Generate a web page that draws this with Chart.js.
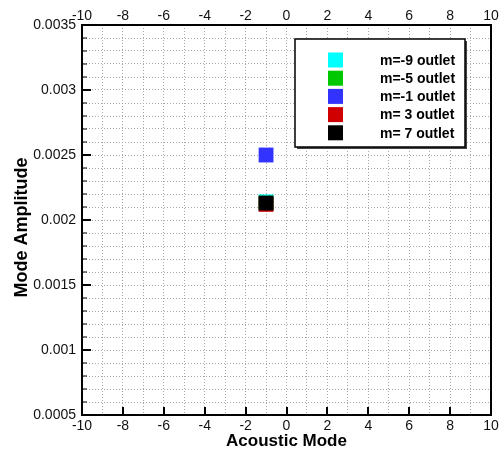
<!DOCTYPE html>
<html>
<head>
<meta charset="utf-8">
<script src="https://cdn.jsdelivr.net/npm/chart.js@4.4.1/dist/chart.umd.min.js"></script>
<style>
  body { margin: 0; background: #fff; }
  canvas { display: block; }
</style>
</head>
<body>
<canvas id="modeChart" width="504" height="454"></canvas>
<script>
// Data
const seriesLabels = ["m=-9 outlet", "m=-5 outlet", "m=-1 outlet", "m= 3 outlet", "m= 7 outlet"];
const seriesColors = ["#00ffff", "#00c800", "#3333ff", "#d00000", "#000000"];
const modeX = [-1, -1, -1, -1, -1];
const amplitude = [0.00214, 0.00213, 0.0025, 0.00212, 0.00213];

const FONT = "'Liberation Sans', Arial, sans-serif";

function isMajor(v, step) {
  return Math.abs(v / step - Math.round(v / step)) < 1e-6;
}

// Box legend drawn inside the plot, Tecplot style
const insideLegend = {
  id: "insideLegend",
  afterDraw(chart) {
    const ctx = chart.ctx;
    const bx = 295, by = 39, bw = 170, bh = 108;
    ctx.save();
    ctx.fillStyle = "#444";
    ctx.fillRect(bx + 2, by + 2, bw, bh);
    ctx.fillStyle = "#fff";
    ctx.fillRect(bx, by, bw, bh);
    ctx.strokeStyle = "#000";
    ctx.lineWidth = 1.5;
    ctx.strokeRect(bx, by, bw, bh);
    ctx.font = "bold 14px " + FONT;
    ctx.textBaseline = "middle";
    ctx.textAlign = "left";
    chart.data.datasets.forEach((ds, i) => {
      const cy = 60 + i * 18.2;
      ctx.fillStyle = ds.backgroundColor;
      ctx.fillRect(328, cy - 7.5, 15, 15);
      ctx.fillStyle = "#000";
      ctx.fillText(ds.label, 380, cy + 1);
    });
    ctx.restore();
  }
};

// Inward tick marks on the bottom and left axes
const inwardTicks = {
  id: "inwardTicks",
  afterDraw(chart) {
    const ctx = chart.ctx;
    const xs = chart.scales.x, ys = chart.scales.y;
    ctx.save();
    ctx.strokeStyle = "#000";
    ctx.lineWidth = 2;
    xs.ticks.forEach(t => {
      if (!isMajor(t.value, 2) || t.value <= xs.min || t.value >= xs.max) return;
      const px = Math.round(xs.getPixelForValue(t.value));
      ctx.beginPath();
      ctx.moveTo(px, ys.bottom);
      ctx.lineTo(px, ys.bottom - 8);
      ctx.stroke();
    });
    ys.ticks.forEach(t => {
      if (t.value <= ys.min + 1e-9 || t.value >= ys.max - 1e-9) return;
      const py = Math.round(ys.getPixelForValue(t.value));
      const len = isMajor(t.value, 0.0005) ? 9 : 5;
      ctx.lineWidth = isMajor(t.value, 0.0005) ? 2 : 1;
      ctx.beginPath();
      ctx.moveTo(xs.left, py);
      ctx.lineTo(xs.left + len, py);
      ctx.stroke();
    });
    ctx.restore();
  }
};

const gridOpts = {
  color: "#a8a8a8",
  lineWidth: 1,
  drawTicks: false
};

const tickFont = { family: FONT, size: 14 };

new Chart(document.getElementById("modeChart"), {
  type: "scatter",
  data: {
    datasets: seriesLabels.map((label, i) => ({
      label: label,
      data: [{ x: modeX[i], y: amplitude[i] }],
      backgroundColor: seriesColors[i],
      borderColor: seriesColors[i],
      borderWidth: 0,
      pointStyle: "rect",
      pointRadius: 10.5,
      pointHoverRadius: 10.5,
      // later series sit on top, like the original plot
      order: seriesLabels.length - 1 - i
    }))
  },
  options: {
    responsive: false,
    animation: false,
    layout: { padding: 0 },
    plugins: {
      legend: { display: false },
      tooltip: { enabled: false }
    },
    scales: {
      x: {
        type: "linear",
        position: "bottom",
        min: -10,
        max: 10,
        afterFit(s) { s.height = 39; },
        grid: gridOpts,
        border: { color: "#000", width: 2, dash: [1, 2] },
        ticks: {
          stepSize: 1,
          autoSkip: false,
          maxRotation: 0,
          padding: 3,
          color: "#111",
          font: tickFont,
          callback: v => isMajor(v, 2) ? String(Math.round(v)) : ""
        },
        title: {
          display: true,
          text: "Acoustic Mode",
          color: "#000",
          font: { family: FONT, size: 17, weight: "bold" },
          padding: { top: 0, bottom: 2 }
        }
      },
      x2: {
        type: "linear",
        position: "top",
        min: -10,
        max: 10,
        afterFit(s) { s.height = 25; },
        grid: { display: false },
        border: { color: "#000", width: 2 },
        ticks: {
          stepSize: 2,
          autoSkip: false,
          maxRotation: 0,
          padding: -8,
          color: "#111",
          font: tickFont,
          callback: v => String(Math.round(v))
        }
      },
      y: {
        type: "linear",
        position: "left",
        min: 0.0005,
        max: 0.0035,
        afterFit(s) { s.width = 82; },
        grid: gridOpts,
        border: { color: "#000", width: 2, dash: [1, 2] },
        ticks: {
          stepSize: 0.0001,
          autoSkip: false,
          padding: 6,
          color: "#111",
          font: tickFont,
          callback: v => isMajor(v, 0.0005) ? String(parseFloat(v.toFixed(4))) : ""
        },
        title: {
          display: true,
          text: "Mode Amplitude\u00a0\u00a0\u00a0",
          color: "#000",
          font: { family: FONT, size: 18, weight: "bold" },
          padding: { top: 11, bottom: 0 }
        }
      },
      y2: {
        type: "linear",
        position: "right",
        min: 0.0005,
        max: 0.0035,
        afterFit(s) { s.width = 13; },
        grid: { display: false },
        border: { color: "#000", width: 2 },
        ticks: { display: false }
      }
    }
  },
  plugins: [insideLegend, inwardTicks]
});
</script>
</body>
</html>
